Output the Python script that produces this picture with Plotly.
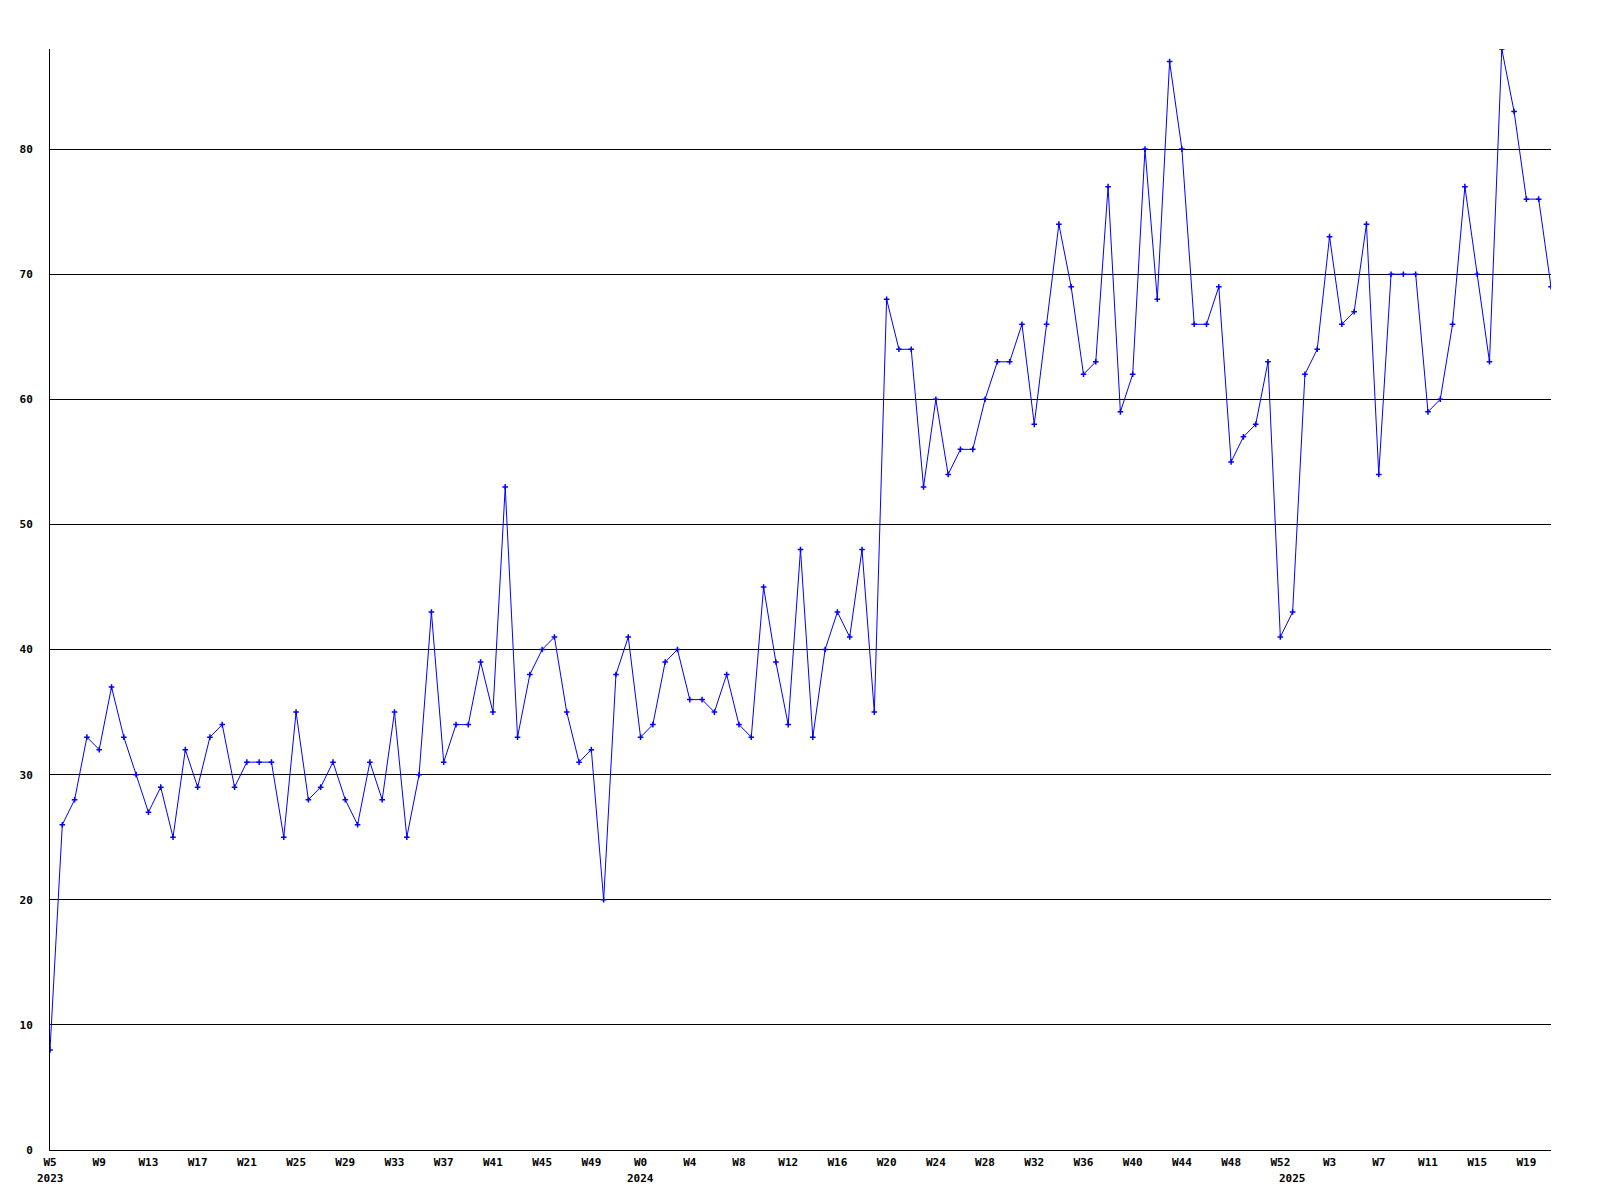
import plotly.graph_objects as go

# Weekly values (W5 2023 .. W21 2025)
values = [
    8, 26, 28, 33, 32, 37, 33, 30, 27, 29, 25, 32, 29, 33, 34, 29, 31, 31, 31, 25,
    35, 28, 29, 31, 28, 26, 31, 28, 35, 25, 30, 43, 31, 34, 34, 39, 35, 53, 33, 38,
    40, 41, 35, 31, 32, 20, 38, 41, 33, 34, 39, 40, 36, 36, 35, 38, 34, 33, 45, 39,
    34, 48, 33, 40, 43, 41, 48, 35, 68, 64, 64, 53, 60, 54, 56, 56, 60, 63, 63, 66,
    58, 66, 74, 69, 62, 63, 77, 59, 62, 80, 68, 87, 80, 66, 66, 69, 55, 57, 58, 63,
    41, 43, 62, 64, 73, 66, 67, 74, 54, 70, 70, 70, 59, 60, 66, 77, 70, 63, 88, 83,
    76, 76, 69,
]

weeks_2023 = list(range(5, 53))
weeks_2024 = list(range(0, 53))
weeks_2025 = list(range(0, 22))
years = ["2023", "2024", "2025"]

week_labels = [f"W{w}" for w in weeks_2023 + weeks_2024 + weeks_2025]
year_start_idx = [0, len(weeks_2023), len(weeks_2023) + len(weeks_2024)]

x = list(range(len(values)))
tickvals = x[::4]
ticktext = [week_labels[i] for i in tickvals]

FONT = "DejaVu Sans Mono"

fig = go.Figure()
fig.add_trace(go.Scatter(
    x=x, y=values, mode="lines+markers",
    line=dict(color="#0000FF", width=1),
    marker=dict(symbol="cross-thin", size=4, color="#0000FF",
                line=dict(color="#0000FF", width=1.5)),
    hoverinfo="x+y", showlegend=False,
))

for idx, yr in zip(year_start_idx, years):
    fig.add_annotation(
        x=idx, y=0, xref="x", yref="paper", text=yr, showarrow=False,
        xanchor="center", yanchor="top", yshift=-20,
        font=dict(family=FONT, size=11, color="black", weight="bold"),
    )

fig.update_layout(
    width=1600, height=1200,
    margin=dict(l=50, r=49, t=49, b=50),
    paper_bgcolor="white", plot_bgcolor="white",
    font=dict(family=FONT, size=11, color="black", weight="bold"),
    xaxis=dict(
        range=[0, len(values) - 1], tickmode="array", tickvals=tickvals, ticktext=ticktext,
        showgrid=False, zeroline=False, showline=True, linecolor="black", linewidth=1,
        ticks="", tickfont=dict(family=FONT, size=11, color="black", weight="bold"),
        ticklabelstandoff=2, tickangle=0,
    ),
    yaxis=dict(
        range=[0, 88], dtick=10, tick0=0, showgrid=True, gridcolor="black", gridwidth=1,
        zeroline=False, showline=True, linecolor="black", linewidth=1, ticks="",
        tickfont=dict(family=FONT, size=11, color="black", weight="bold"),
        ticklabelstandoff=14,
    ),
)

fig.write_html(
    "out.html",
    config={"displayModeBar": False},
    post_script="document.body.style.margin='0';document.body.style.overflow='hidden';",
)
